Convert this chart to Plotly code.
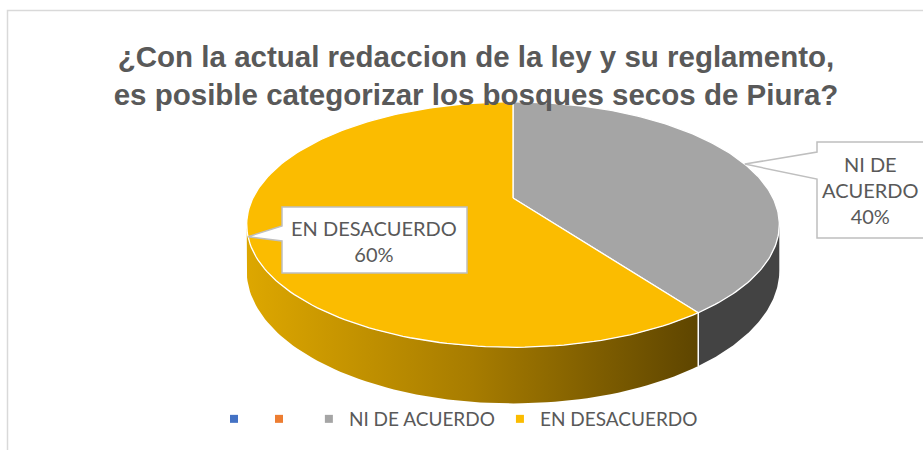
import numpy as np
import plotly.graph_objects as go

# ---------------- data ----------------
categories = ["", " ", "NI DE ACUERDO", "EN DESACUERDO"]
values = [0, 0, 40, 60]
label_names = ["", "", "NI DE<br>ACUERDO", "EN DESACUERDO"]
title_lines = ["¿Con la actual redaccion de la ley y su reglamento,",
               "es posible categorizar los bosques secos de Piura?"]

# ---------------- styles ----------------
top_colors = ["#4472C4", "#ED7D31", "#A5A5A5", "#FBBC00"]
side_colors = ["#2F5597", "#C55A11", "#434343", None]
side_gradients = [None, None, None,
                  [[0, "#DDA700"], [0.5, "#A77C00"], [1, "#5E4500"]]]
# label callout boxes (left, top, right, bottom) and pointer base on left edge
label_boxes = [None, None, (817, 142, 940, 238), (282, 207, 467, 273)]
pointer_base = [None, None, (152, 179), (226, 241)]
label_centers = [None, None, (870, 190), (374, 241)]

# ---------------- geometry (pixel space) ----------------
CX, CY = 513, 198
RX, RY = 260, 117
PERSP = 0.2163
DROP = 44
SIL = np.degrees(np.arccos(-PERSP))  # silhouette angles


def proj(theta_deg, z=0.0):
    t = np.radians(theta_deg)
    u, v = np.sin(t), np.cos(t)
    f = 1 + PERSP * v
    return CX + RX * u / f, CY - RY * v / f + z * DROP / f


def arc(a0, a1, z=0.0, n=80):
    th = np.linspace(a0, a1, n)
    return proj(th, z)


fig = go.Figure()
total = float(sum(values))

slices = []
start = 0.0
for i, v in enumerate(values):
    span = 360.0 * v / total
    slices.append((start, start + span))
    start += span

# sides (front visible part)
for i, (a0, a1) in enumerate(slices):
    if values[i] <= 0:
        continue
    s0, s1 = max(a0, SIL), min(a1, 360 - SIL)
    if s1 <= s0:
        continue
    xt, yt = arc(s0, s1, 0)
    xb, yb = arc(s1, s0, 1)
    xs = np.concatenate([xt, xb, xt[:1]])
    ys = np.concatenate([yt, yb, yt[:1]])
    kw = dict(fill="toself", mode="lines", line=dict(width=0),
              hoverinfo="skip", showlegend=False)
    if side_gradients[i] is not None:
        kw["fillgradient"] = dict(type="horizontal", colorscale=side_gradients[i],
                                  start=float(xs.min()), stop=float(xs.max()))
    else:
        kw["fillcolor"] = side_colors[i]
    fig.add_trace(go.Scatter(x=xs, y=ys, **kw))

# vertical white edges at slice boundaries on visible side
for i, (a0, a1) in enumerate(slices):
    if values[i] <= 0:
        continue
    if SIL < a1 < 360 - SIL and a1 < 360:
        x0, y0 = proj(a1, 0)
        x1, y1 = proj(a1, 1)
        fig.add_trace(go.Scatter(x=[x0, x1], y=[y0, y1], mode="lines",
                                 line=dict(color="white", width=1.5),
                                 hoverinfo="skip", showlegend=False))

# top faces
for i, (a0, a1) in enumerate(slices):
    if values[i] <= 0:
        continue
    xr, yr = arc(a0, a1, 0, 160)
    xs = np.concatenate([[CX], xr, [CX]])
    ys = np.concatenate([[CY], yr, [CY]])
    fig.add_trace(go.Scatter(x=xs, y=ys, fill="toself", fillcolor=top_colors[i],
                             mode="lines", line=dict(color="white", width=1.3),
                             hoverinfo="skip", showlegend=False))

# legend entries
for i, name in enumerate(categories):
    fig.add_trace(go.Scatter(x=[None], y=[None], mode="markers", name=name,
                             marker=dict(symbol="square", size=8, color=top_colors[i])))

shapes = [dict(type="rect", xref="x", yref="y", x0=7.5, y0=10.5, x1=940, y1=470,
               line=dict(color="#D9D9D9", width=1.5), fillcolor="rgba(0,0,0,0)")]
annotations = []
for i, (a0, a1) in enumerate(slices):
    if values[i] <= 0 or label_boxes[i] is None:
        continue
    vx, vy = proj((a0 + a1) / 2.0, 0)
    l, t, r, b = label_boxes[i]
    p0, p1 = pointer_base[i]
    path = (f"M {l},{t} L {r},{t} L {r},{b} L {l},{b} L {l},{p1} "
            f"L {vx:.1f},{vy:.1f} L {l},{p0} Z")
    shapes.append(dict(type="path", xref="x", yref="y", path=path,
                       line=dict(color="#BFBFBF", width=1.5), fillcolor="white"))
    cx, cy = label_centers[i]
    pct = f"{round(100 * values[i] / total)}%"
    annotations.append(dict(x=cx, y=cy, xref="x", yref="y", showarrow=False,
                            text=f"{label_names[i]}<br>{pct}", align="center",
                            font=dict(family="Lato", size=20, color="#595959")))

fig.update_layout(
    width=923, height=450,
    margin=dict(l=0, r=0, t=0, b=0),
    paper_bgcolor="white", plot_bgcolor="white",
    xaxis=dict(range=[0, 923], visible=False, fixedrange=True),
    yaxis=dict(range=[450, 0], visible=False, fixedrange=True),
    shapes=shapes,
    annotations=annotations,
    title=dict(text="<b>" + title_lines[0] + "</b><br><b>" + title_lines[1] + "</b>",
               x=476 / 923, xanchor="center", y=1 - 67 / 450, yanchor="middle",
               font=dict(family="Liberation Sans, Arial, sans-serif", size=29.5, color="#595959")),
    showlegend=True,
    legend=dict(orientation="h", x=214 / 923, xanchor="left", y=1 - 419 / 450,
                yanchor="middle", font=dict(family="Lato", size=19, color="#595959"),
                itemwidth=30, bgcolor="rgba(0,0,0,0)", traceorder="normal"),
)

fig.write_html("out.html", config={"displayModeBar": False},
               post_script="document.body.style.margin='0';")
